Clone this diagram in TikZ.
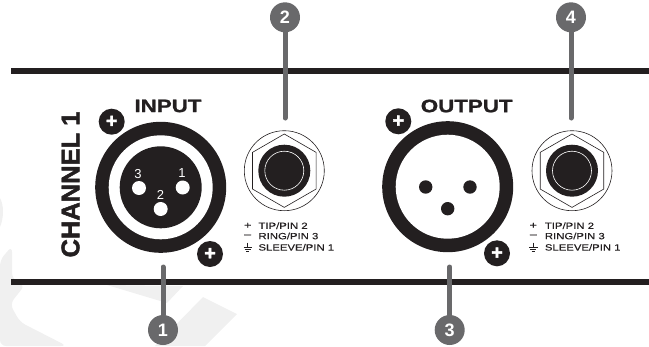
\documentclass[tikz,border=0pt]{standalone}
\usepackage{fontspec}
\newfontfamily\panelfont[FakeStretch=1.26,FakeBold=.3]{Liberation Sans}
\newfontfamily\titlefont[FakeStretch=1.24,FakeBold=1.2]{Liberation Sans}
\newfontfamily\heavyfont[FakeBold=1.8]{Liberation Sans}
\newfontfamily\sidefont{Liberation Sans}
\usetikzlibrary{%
    shapes.geometric%
}
\definecolor{ink}{HTML}{231F20}
\definecolor{leadgray}{HTML}{69696B}
\definecolor{markgray}{HTML}{F0F0F0}

\begin{document}
\begin{tikzpicture}[
    x=1pt,y=-1pt,
    bar/.style={ink,line width=6pt},
    leader/.style={leadgray,line width=5pt,line cap=round},
    badge/.style={circle,fill=leadgray,minimum size=30pt,inner sep=0pt,
        text=white,font={\sidefont\bfseries\fontsize{18}{18}\selectfont}},
    screw/.style={circle,fill=ink,minimum size=26pt,inner sep=0pt,
        text=white,font={\heavyfont\bfseries\fontsize{20}{20}\selectfont}},
    title/.style={ink,font={\titlefont\bfseries\fontsize{18}{18}\selectfont}},
    pinno/.style={white,font={\sidefont\fontsize{13}{13}\selectfont}},
    legend/.style={ink,anchor=west,inner sep=0pt,
        font={\panelfont\fontsize{9}{9}\selectfont}},
    symbol/.style={ink,inner sep=0pt,font={\panelfont\fontsize{10}{10}\selectfont}},
    hexnut/.style={regular polygon,regular polygon sides=6,draw=ink,line width=.6pt,
        shape border rotate=30,minimum size=73.4pt,inner sep=0pt},
    ]
    \useasboundingbox (0,0) rectangle (649,346);

    % Faint mark in the background
    \fill[markgray] (0,198) .. controls (4,205) and (4,218) .. (0,227) -- cycle;
    \fill[markgray,rounded corners=6pt] (0,260) -- (12,246) -- (12,279) -- (25,285)
        -- (10,304) -- (20,322) -- (67,346) -- (0,346) -- cycle;
    \fill[markgray] (107,285) -- (183,286) -- (167,303) -- cycle;
    \fill[markgray] (203,297) -- (237,314) -- (205,346) -- (155,346) -- cycle;

    % Panel edges
    \draw[bar] (11,71) -- (649,71);
    \draw[bar] (11,282) -- (649,282);

    % Input connector
    \fill[ink] (160.7,187.3) circle (65.5);
    \fill[white] (160.7,187.3) circle (52);
    \fill[ink] (160.7,187.3) circle (41);
    \fill[white] (139,188) circle (7);
    \fill[white] (182.7,187.5) circle (7);
    \fill[white] (160.7,209) circle (7);
    \node[pinno] (pinthree) at (138,174) {3};
    \node[pinno] (pinone) at (182,173) {1};
    \node[pinno] (pintwo) at (160.5,195) {2};
    \node[screw] (screwa) at (111.7,121.7) {+};
    \node[screw] (screwb) at (210,254) {+};
    \node[title] (input) at (168,106) {INPUT};
    \node[ink,rotate=90,font={\heavyfont\bfseries\fontsize{25.5}{25.5}\selectfont}] (channel) at (70.5,184.5) {CHANNEL 1};

    % Input jack
    \draw[ink,line width=.6pt] (284.3,170.7) circle (40);
    \node[hexnut] (hexa) at (284.3,170.7) {};
    \fill[ink] (284.3,170.7) circle (26);
    \draw[white,line width=.6pt] (284.3,170.7) circle (19.5);

    % Input legend
    \node[symbol] (plusa) at (247.7,225.7) {+};
    \node[legend] (tipa) at (258.3,225.7) {TIP/PIN 2};
    \node[symbol] (minusa) at (247.7,236) {–};
    \node[legend] (ringa) at (258.3,236) {RING/PIN 3};
    \node[legend] (sleevea) at (258.3,247.3) {SLEEVE/PIN 1};
    \draw[ink,line width=.6pt] (247.7,242.5) -- (247.7,247) (243.5,247) -- (251.9,247)
        (244.7,249) -- (250.7,249) (246,251) -- (249.4,251);

    % Output connector
    \fill[ink] (447.7,186.7) circle (65.5);
    \fill[white] (447.7,186.7) circle (52);
    \fill[ink] (425.7,187) circle (6.7);
    \fill[ink] (470,187) circle (6.7);
    \fill[ink] (447.7,208.7) circle (6.7);
    \node[screw] (screwc) at (398.3,121.3) {+};
    \node[screw] (screwd) at (497,253.3) {+};
    \node[title] (output) at (466.7,106) {OUTPUT};

    % Output jack
    \draw[ink,line width=.6pt] (572,170.7) circle (40);
    \node[hexnut] (hexb) at (572,170.7) {};
    \fill[ink] (572,170.7) circle (26);
    \draw[white,line width=.6pt] (572,170.7) circle (19.5);

    % Output legend
    \node[symbol] (plusb) at (533.3,225.7) {+};
    \node[legend] (tipb) at (544.7,225.7) {TIP/PIN 2};
    \node[symbol] (minusb) at (533.3,236) {–};
    \node[legend] (ringb) at (544.7,236) {RING/PIN 3};
    \node[legend] (sleeveb) at (544.7,247.3) {SLEEVE/PIN 1};
    \draw[ink,line width=.6pt] (533.3,242.5) -- (533.3,247) (529.1,247) -- (537.5,247)
        (530.3,249) -- (536.3,249) (531.6,251) -- (535,251);

    % Numbered leaders
    \node[badge] (badgeone) at (163,330) {1};
    \node[badge] (badgetwo) at (285,17.3) {2};
    \node[badge] (badgethree) at (449.7,330) {3};
    \node[badge] (badgefour) at (571,17.3) {4};
    \coordinate (endone) at (163,267);
    \coordinate (endtwo) at (285,118);
    \coordinate (endthree) at (449.7,267);
    \coordinate (endfour) at (571,118);
    \draw[leader] (endone) -- (badgeone);
    \draw[leader] (endtwo) -- (badgetwo);
    \draw[leader] (endthree) -- (badgethree);
    \draw[leader] (endfour) -- (badgefour);
\end{tikzpicture}
\end{document}
